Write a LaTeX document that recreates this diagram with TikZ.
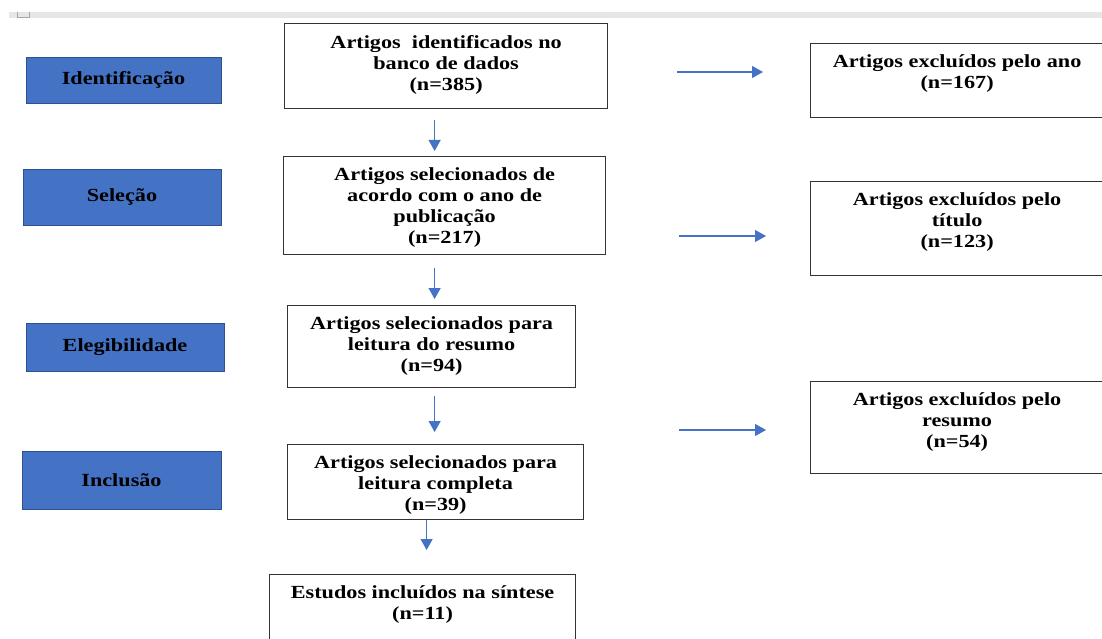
\documentclass[tikz,border=0pt]{standalone}
\usepackage{fontspec}
\setmainfont{Liberation Serif}[FakeStretch=1.2]
\usetikzlibrary{arrows.meta, positioning}
\usepackage{xcolor}
\definecolor{wordblue}{HTML}{4472C4}
\definecolor{wordedge}{HTML}{2F528F}
\definecolor{bargray}{HTML}{E6E6E6}
\newcommand{\boxtext}[3]{\parbox[t][#2][t]{#1}{\centering\vspace*{11.5pt}#3}}

\begin{document}
\begin{tikzpicture}[
    x=1pt, y=-1pt,
    phase/.style={draw=wordedge, line width=0.8pt, fill=wordblue, minimum width=#1, font=\fontsize{18.5}{21}\selectfont\bfseries, inner sep=0pt},
    stage/.style={draw=black!80, line width=1.2pt, fill=white, inner sep=0pt, anchor=north west, font=\fontsize{18.5}{21}\selectfont\bfseries},
    flow/.style={-{Triangle[length=11pt, width=12pt]}, line width=1.2pt, draw=wordblue, fill=wordblue},
]
\useasboundingbox[fill=white] (0,0) rectangle (1102,639);

% top bar
\fill[bargray] (9,12) rectangle (1102,18);
\draw[gray!70, line width=0.8pt] (17,12) -- (17,17.5) -- (29,17.5) -- (29,12);

% phases
\node[phase=195pt, minimum height=46pt] (ident) at (123.5,80) {Identificação};
\node[phase=198pt, minimum height=56pt] (selec) at (122,197) {Seleção};
\node[phase=198pt, minimum height=48pt] (eleg) at (125,347) {Elegibilidade};
\node[phase=199pt, minimum height=58pt] (incl) at (121.5,480) {Inclusão};

% main flow
\node[stage] (box1) at (284,23) {\boxtext{323pt}{85pt}{Artigos\ \ identificados no\\banco de dados\\(n=385)}};
\node[stage] (box2) at (283,156) {\boxtext{322pt}{98pt}{Artigos selecionados de\\acordo com o ano de\\publicação\\(n=217)}};
\node[stage] (box3) at (287,305) {\boxtext{288pt}{82pt}{Artigos selecionados para\\leitura do resumo\\(n=94)}};
\node[stage] (box4) at (287,444) {\boxtext{296pt}{75pt}{Artigos selecionados para\\leitura completa\\(n=39)}};
\node[stage] (box5) at (269,574) {\boxtext{306pt}{95pt}{Estudos incluídos na síntese\\(n=11)}};

\draw[flow, shorten <=11pt, shorten >=5pt] ([xshift=-11.5pt]box1.south) -- ([xshift=-11.5pt]box1.south |- box2.north);
\draw[flow, shorten <=13pt, shorten >=6pt] ([xshift=-10pt]box2.south) -- ([xshift=-10pt]box2.south |- box3.north);
\draw[flow, shorten <=8pt, shorten >=12pt] ([xshift=3pt]box3.south) -- ([xshift=3pt]box3.south |- box4.north);
\draw[flow, shorten >=24pt] ([xshift=-9pt]box4.south) -- ([xshift=-9pt]box4.south |- box5.north);

% exclusions
\node[stage] (excl1) at (810,43) {\boxtext{293pt}{74pt}{Artigos excluídos pelo ano\\(n=167)}};
\node[stage] (excl2) at (810,181) {\boxtext{293pt}{94pt}{Artigos excluídos pelo\\título\\(n=123)}};
\node[stage] (excl3) at (810,381) {\boxtext{293pt}{92pt}{Artigos excluídos pelo\\resumo\\(n=54)}};

\coordinate (out1) at (677,72);
\coordinate (in1) at (763,72);
\coordinate (out2) at (679,236);
\coordinate (in2) at (766,236);
\coordinate (out3) at (679,430);
\coordinate (in3) at (766,430);
\draw[flow] (out1) -- (in1);
\draw[flow] (out2) -- (in2);
\draw[flow] (out3) -- (in3);

\end{tikzpicture}
\end{document}
